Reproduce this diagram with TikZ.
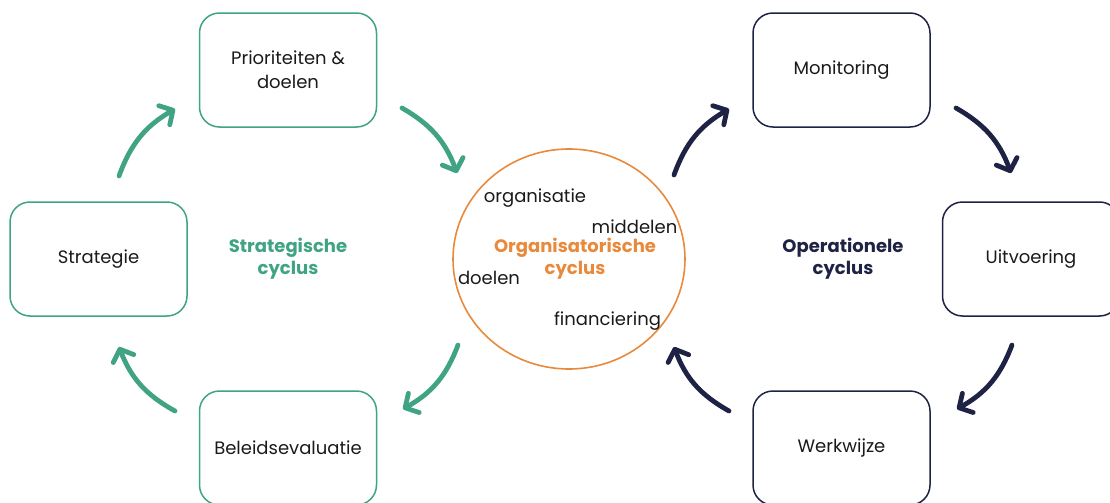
\documentclass[tikz,border=0pt]{standalone}
\usepackage{fontspec}
\setmainfont{Poppins}
\usetikzlibrary{arrows.meta}
\definecolor{cgreen}{HTML}{3FA384}
\definecolor{cnavy}{HTML}{1E2244}
\definecolor{corange}{HTML}{E8893C}
\definecolor{ctext}{HTML}{1A1A1A}
\tikzset{
  box/.style={draw, rounded corners=10pt, minimum width=88.5pt, minimum height=57pt,
    line width=0.75pt, align=center, text=ctext, font=\fontsize{9}{12}\selectfont},
  word/.style={anchor=base, text=ctext, font=\fontsize{9}{12}\selectfont},
  title/.style={align=center, font=\bfseries\fontsize{9}{11}\selectfont},
  cyc/.style={line width=2.4pt, line cap=round, bend left=20,
    -{Straight Barb[length=5pt,width=11pt,line cap=round,line join=round]}}
}
\begin{document}
\begin{tikzpicture}[x=0.5pt,y=-0.5pt]
\useasboundingbox (0,0) rectangle (1110,503);

\node[box,cgreen] (prior) at (288,70) {\textcolor{ctext}{Prioriteiten \&}\\\textcolor{ctext}{doelen}};
\node[box,cgreen] (strat) at (98.5,259) {\textcolor{ctext}{Strategie}};
\node[box,cgreen] (beleid) at (288,448) {\textcolor{ctext}{Beleidsevaluatie}};
\node[title,cgreen] (stratcyc) at (288,259) {Strategische\\cyclus};

\node[box,cnavy] (monitor) at (841.5,70) {\textcolor{ctext}{Monitoring}};
\node[box,cnavy] (uitvoer) at (1031,259) {\textcolor{ctext}{Uitvoering}};
\node[box,cnavy] (werk) at (841.5,448) {\textcolor{ctext}{Werkwijze}};
\node[title,cnavy] (opcyc) at (843,259) {Operationele\\cyclus};

\draw[corange, line width=0.8pt] (569,259) ellipse [x radius=116, y radius=110];
\node[title,corange] (orgcyc) at (575,259) {Organisatorische\\cyclus};
\node[word] (organisatie) at (535,202) {organisatie};
\node[word] (middelen) at (634.5,233) {middelen};
\node[word] (doelen) at (489,284) {doelen};
\node[word] (financiering) at (607.5,325) {financiering};

% arrow ends
\coordinate (g1) at (119,176); \coordinate (g2) at (175,109);
\coordinate (g3) at (402,108); \coordinate (g4) at (457,173);
\coordinate (g5) at (458,345); \coordinate (g6) at (403,409);
\coordinate (g7) at (175,411); \coordinate (g8) at (119,347);
\coordinate (n1) at (674,175); \coordinate (n2) at (729,109);
\coordinate (n3) at (956,108); \coordinate (n4) at (1011,173);
\coordinate (n5) at (1012,345); \coordinate (n6) at (957,409);
\coordinate (n7) at (729,411); \coordinate (n8) at (674,347);

\draw[cyc,cgreen] (g1) to (g2);
\draw[cyc,cgreen] (g3) to (g4);
\draw[cyc,cgreen] (g5) to (g6);
\draw[cyc,cgreen] (g7) to (g8);
\draw[cyc,cnavy] (n1) to (n2);
\draw[cyc,cnavy] (n3) to (n4);
\draw[cyc,cnavy] (n5) to (n6);
\draw[cyc,cnavy] (n7) to (n8);
\end{tikzpicture}
\end{document}
